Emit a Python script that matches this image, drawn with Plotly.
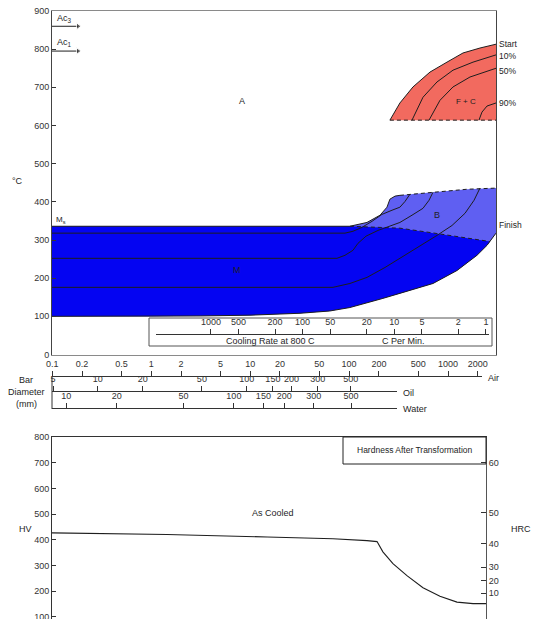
import plotly.graph_objects as go

W, H = 534, 619
FONT = "Liberation Sans, Arial, sans-serif"
INK = "#1e1e1e"
RED = "#F26A5F"
BLUE_DARK = "#0404F2"
BLUE_LIGHT = "#5F5FF2"

# ---------------- CCT diagram ----------------
# x: equivalent air-cooled bar diameter (mm), y: temperature (deg C)
AC3, AC1, MS = 860, 795, 336
ARROW_D = [0.1, 0.183]

# ferrite + carbide field
fc_start_d = [259, 327, 443, 658, 977, 1418, 2104, 3055]
fc_start_T = [614, 659, 701, 740, 766, 790, 803, 813]
fc_10_d = [433, 559, 774, 1124, 1790, 3055]
fc_10_T = [614, 674, 714, 745, 766, 785]
fc_50_d = [643, 830, 1124, 1668, 3055]
fc_50_T = [614, 666, 701, 727, 750]
fc_90_d = [2056, 2203, 2478, 3055]
fc_90_T = [614, 635, 651, 659]
FC_FLOOR = 614

# martensite start and bainite field
ms_d = [0.1, 102]
ms_T = [MS, MS]
bs_nose_d = [102, 152, 206, 242, 259, 292, 327]
bs_nose_T = [336, 346, 365, 386, 407, 415, 417]
bs_top_d = [327, 705, 1556, 3055]
bs_top_T = [417, 425, 433, 436]
mb_d = [102, 327, 774, 1668, 2655]
mb_T = [336, 331, 317, 304, 296]
fin_d = [0.1, 1, 3.13, 10, 32, 64, 102, 220, 327, 705, 1233, 1964, 2478, 2655, 3055]
fin_T = [100, 100, 101, 103, 108, 114, 123, 147, 160, 186, 220, 260, 286, 296, 318]
p10_d = [0.1, 91.2, 110, 135, 171, 215, 272, 327, 368, 413]
p10_T = [318, 318, 323, 333, 349, 367, 378, 386, 401, 420]
p50_d = [0.1, 75.6, 91.2, 109.7, 123, 148.5, 196, 259, 327, 433, 559, 643, 705]
p50_T = [252, 252, 260, 273, 291, 310, 325, 336, 346, 365, 383, 404, 425]
p90_d = [0.1, 68.9, 102, 152, 231, 327, 521, 774, 1097, 1486, 1832, 2104]
p90_T = [176, 176, 186, 202, 228, 252, 283, 312, 338, 370, 404, 436]

# ---------------- scales under the diagram ----------------
rate_ticks = [1000, 500, 200, 100, 50, 20, 10, 5, 2, 1]
air_ticks = [0.1, 0.2, 0.5, 1, 2, 5, 10, 20, 50, 100, 200, 500, 1000, 2000]
air_text = ["0.1", "0.2", "0.5", "1", "2", "5", "10", "20", "50", "100", "200", "500", "1000", "2000"]
oil_ticks = [5, 10, 20, 50, 100, 150, 200, 300, 500]
water_ticks = [10, 20, 50, 100, 150, 200, 300, 500]

# ---------------- hardness ----------------
hv_d = [0.1, 1.45, 14.9, 68.9, 152, 192, 220, 278, 385, 559, 830, 1233, 1790, 2420]
hv = [427, 421, 411, 404, 397, 393, 353, 307, 260, 213, 180, 157, 151, 151]
hv_ticks = [100, 200, 300, 400, 500, 600, 700, 800]
hrc_hv = [192, 240, 293, 385, 505, 700]
hrc_text = ["10", "20", "30", "40", "50", "60"]


def px(x):
    return x / W


def py(y):
    return 1 - y / H


fig = go.Figure()


def poly(xs, ys, color):
    fig.add_trace(go.Scatter(x=xs, y=ys, mode="lines", fill="toself", fillcolor=color,
                             line=dict(width=0), hoverinfo="skip", showlegend=False,
                             xaxis="x", yaxis="y"))


def curve(xs, ys, dash="solid", xa="x", ya="y", width=1.0):
    fig.add_trace(go.Scatter(x=xs, y=ys, mode="lines", hoverinfo="skip", showlegend=False,
                             line=dict(color=INK, width=width, dash=dash),
                             xaxis=xa, yaxis=ya))


# filled fields
poly(ms_d + bs_nose_d[1:] + bs_top_d[1:] + fin_d[::-1],
     ms_T + bs_nose_T[1:] + bs_top_T[1:] + fin_T[::-1], BLUE_LIGHT)
keep = [i for i, d in enumerate(fin_d) if d <= mb_d[-1]]
poly(ms_d + mb_d[1:] + [fin_d[i] for i in reversed(keep)],
     ms_T + mb_T[1:] + [fin_T[i] for i in reversed(keep)], BLUE_DARK)
poly(fc_start_d + [fc_start_d[-1]], fc_start_T + [FC_FLOOR], RED)

# transformation lines
DASH = "4px,3px"
curve(ms_d, ms_T)
curve(bs_nose_d, bs_nose_T)
curve(bs_top_d, bs_top_T, dash=DASH)
curve(mb_d, mb_T, dash=DASH)
curve(p10_d, p10_T)
curve(p50_d, p50_T)
curve(p90_d, p90_T)
curve(fin_d, fin_T)
curve(fc_start_d, fc_start_T)
curve(fc_10_d, fc_10_T)
curve(fc_50_d, fc_50_T)
curve(fc_90_d, fc_90_T)
curve([fc_start_d[0], fc_start_d[-1]], [FC_FLOOR, FC_FLOOR], dash=DASH)

# Ac3 / Ac1 arrows
for temp in (AC3, AC1):
    fig.add_trace(go.Scatter(x=ARROW_D, y=[temp, temp], mode="lines+markers",
                             line=dict(color=INK, width=1),
                             marker=dict(symbol="triangle-right", size=[0, 6], color=INK),
                             hoverinfo="skip", showlegend=False, xaxis="x", yaxis="y"))

# placeholders so the scale axes get drawn
for n in (2, 3, 4, 5):
    fig.add_trace(go.Scatter(x=[None], y=[None], xaxis=f"x{n}", yaxis=f"y{n}",
                             showlegend=False, hoverinfo="skip"))

# hardness curve
curve(hv_d, hv, xa="x6", ya="y6", width=1.1)
fig.add_trace(go.Scatter(x=[None], y=[None], xaxis="x6", yaxis="y7",
                         showlegend=False, hoverinfo="skip"))

tickfont = dict(family=FONT, size=9, color="#333333")
hidden_y = dict(showticklabels=False, showline=False, ticks="", showgrid=False,
                zeroline=False, automargin=False)


def scale_axis(domain, rng, vals, text, anchor):
    return dict(type="log", domain=domain, range=rng, anchor=anchor, side="top",
                tickmode="array", tickvals=vals, ticktext=text, tickangle=0,
                ticks="outside", ticklen=5, tickwidth=1, tickcolor="#333333",
                showline=True, linecolor="#333333", linewidth=1, automargin=False,
                showgrid=False, zeroline=False, tickfont=tickfont)


fig.update_layout(
    width=W, height=H, margin=dict(l=0, r=0, t=0, b=0, autoexpand=False),
    paper_bgcolor="white", plot_bgcolor="white", showlegend=False,
    font=dict(family=FONT, size=9, color=INK),
    xaxis=dict(type="log", domain=[px(52), px(496)], range=[-1, 3.485], anchor="y",
               showticklabels=False, ticks="", showgrid=False, zeroline=False,
               showline=True, mirror=True, linecolor="#8a8a8a", linewidth=1,
               automargin=False),
    yaxis=dict(domain=[py(354.5), py(11)], range=[0, 900], anchor="x",
               tickmode="array", tickvals=list(range(0, 901, 100)),
               ticks="inside", ticklen=4, tickcolor="#333333",
               showline=True, mirror=True, linecolor="#444444", linewidth=1,
               showgrid=False, zeroline=False, tickfont=tickfont, automargin=False),
    xaxis2=scale_axis([px(156), px(489)], [3.599, -0.033], rate_ticks,
                      [str(v) for v in rate_ticks], "y2"),
    yaxis2=dict(domain=[py(335) - 0.005, py(335)], anchor="x2", **hidden_y),
    xaxis3=scale_axis([px(52), px(482)], [-1.003, 3.343], air_ticks, air_text, "y3"),
    yaxis3=dict(domain=[py(377) - 0.005, py(377)], anchor="x3", **hidden_y),
    xaxis4=scale_axis([px(52), px(397)], [0.692, 3.01], oil_ticks,
                      [str(v) for v in oil_ticks], "y4"),
    yaxis4=dict(domain=[py(392) - 0.005, py(392)], anchor="x4", **hidden_y),
    xaxis5=scale_axis([px(52), px(397)], [0.9148, 2.9733], water_ticks,
                      [str(v) for v in water_ticks], "y5"),
    yaxis5=dict(domain=[py(409) - 0.005, py(409)], anchor="x5", **hidden_y),
    xaxis6=dict(type="log", domain=[px(52), px(486)], range=[-1, 3.384], anchor="y6",
                side="top", showticklabels=False, ticks="", showgrid=False, zeroline=False,
                showline=True, linecolor="#333333", linewidth=1, automargin=False),
    yaxis6=dict(domain=[0, py(437.3)], range=[91, 800], anchor="x6",
                tickmode="array", tickvals=hv_ticks, ticks="inside", ticklen=4,
                tickcolor="#333333", showline=True, linecolor="#333333", linewidth=1,
                showgrid=False, zeroline=False, tickfont=tickfont, automargin=False,
                ticklabeloverflow="allow"),
    yaxis7=dict(range=[91, 800], overlaying="y6", anchor="x6", side="right",
                tickmode="array", tickvals=hrc_hv, ticktext=hrc_text,
                ticks="inside", ticklen=5, tickcolor="#333333",
                showline=True, linecolor="#555555", linewidth=1, automargin=False,
                showgrid=False, zeroline=False, tickfont=tickfont),
)


def label(text, x, y, size=9, xanchor="center"):
    return dict(text=text, x=px(x), y=py(y), xref="paper", yref="paper",
                xanchor=xanchor, yanchor="middle", showarrow=False,
                font=dict(family=FONT, size=size, color=INK))


notes = [
    label("°C", 17, 181),
    label("Ac<sub>3</sub>", 55, 19, xanchor="left"),
    label("Ac<sub>1</sub>", 55, 43, xanchor="left"),
    label("A", 242, 101),
    label("F + C", 466, 101, size=8),
    label("B", 437, 215),
    label("M", 237, 270),
    label("M<sub>s</sub>", 54, 220, size=8, xanchor="left"),
    label("Start", 497, 44, size=8.5, xanchor="left"),
    label("10%", 497, 56, size=8.5, xanchor="left"),
    label("50%", 497, 71, size=8.5, xanchor="left"),
    label("90%", 497, 103, size=8.5, xanchor="left"),
    label("Finish", 497, 225, size=8.5, xanchor="left"),
    label("Cooling Rate at 800 C", 270, 341),
    label("C Per Min.", 403, 341),
    label("Air", 486, 378, xanchor="left"),
    label("Oil", 401, 393, xanchor="left"),
    label("Water", 401, 409, xanchor="left"),
    label("Bar", 26, 380),
    label("Diameter", 26, 392),
    label("(mm)", 26, 404),
    label("HV", 25, 529),
    label("HRC", 521, 529),
    label("As Cooled", 273, 513),
    label("Hardness After Transformation", 415, 450, size=8.5),
]
fig.update_layout(annotations=notes)


def rect(x0, y0, x1, y1, color):
    return dict(type="rect", xref="paper", yref="paper", x0=px(x0), x1=px(x1),
                y0=py(y1), y1=py(y0), line=dict(color=color, width=1),
                fillcolor="rgba(0,0,0,0)")


fig.update_layout(shapes=[
    rect(149, 318, 492, 346, "#555555"),
    rect(343, 437, 486, 464, "#222222"),
    dict(type="line", xref="paper", yref="paper", x0=px(52), x1=px(52),
         y0=py(409), y1=py(377), line=dict(color="#333333", width=1)),
])

fig.write_html("out.html")
